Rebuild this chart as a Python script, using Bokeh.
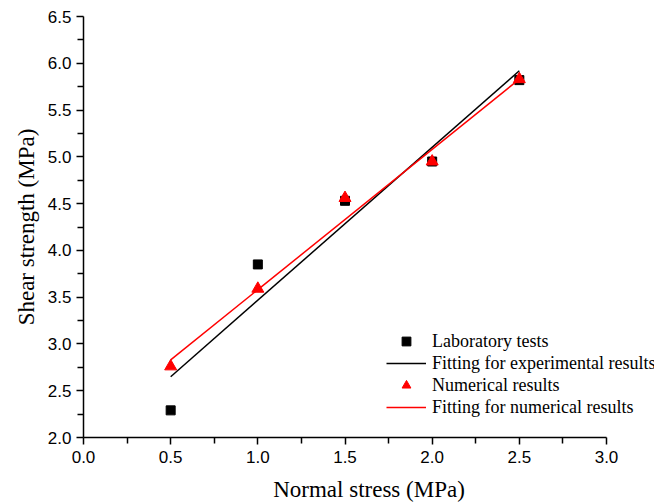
from bokeh.plotting import figure
from bokeh.models import (Range1d, FixedTicker, PrintfTickFormatter, Legend, LegendItem)
from bokeh.embed import file_html
from bokeh.resources import INLINE

# Normal stress levels (MPa)
normal_stress = [0.5, 1.0, 1.5, 2.0, 2.5]

# Shear strength from laboratory direct shear tests (MPa)
lab_strength = [2.29, 3.85, 4.53, 4.95, 5.82]

# Shear strength from the numerical model (MPa)
num_strength = [2.76, 3.59, 4.56, 4.95, 5.83]

# Linear (Mohr-Coulomb) fits, evaluated at the ends of the tested range
fit_stress = [0.5, 2.5]
fit_exp_strength = [2.65, 5.92]
fit_num_strength = [2.83, 5.83]

# Axis ticks
x_major = [0.0, 0.5, 1.0, 1.5, 2.0, 2.5, 3.0]
x_minor = [0.25, 0.75, 1.25, 1.75, 2.25, 2.75]
y_major = [2.0, 2.5, 3.0, 3.5, 4.0, 4.5, 5.0, 5.5, 6.0, 6.5]
y_minor = [2.25, 2.75, 3.25, 3.75, 4.25, 4.75, 5.25, 5.75, 6.25]

SERIF = "Liberation Serif"
SANS = "Liberation Sans"

# The frame runs past x = 3.0 so the legend can extend to the right edge;
# the x axis line itself is bounded to 0..3.
p = figure(width=656, height=504, output_backend="svg", toolbar_location=None,
           x_range=Range1d(0, 3.2753), y_range=Range1d(2, 6.5),
           min_border_left=83, min_border_right=2,
           min_border_top=16, min_border_bottom=66)

p.outline_line_color = None
p.xgrid.visible = False
p.ygrid.visible = False
p.background_fill_color = "white"
p.border_fill_color = "white"

r_lab = p.scatter(normal_stress, lab_strength, marker="square", size=9,
                  fill_color="black", line_color="black")
r_fit_exp = p.line(fit_stress, fit_exp_strength, line_color="black", line_width=1.5)
r_num = p.scatter(normal_stress, num_strength, marker="triangle", size=12,
                  fill_color="#ff0000", line_color="#ff0000")
r_fit_num = p.line(fit_stress, fit_num_strength, line_color="#ff0000", line_width=1.5)

p.xaxis.ticker = FixedTicker(ticks=x_major, minor_ticks=x_minor)
p.yaxis.ticker = FixedTicker(ticks=y_major, minor_ticks=y_minor)
p.xaxis.bounds = (0, 3)
for ax in (p.xaxis, p.yaxis):
    ax.formatter = PrintfTickFormatter(format="%.1f")
    ax.axis_line_width = 1.5
    ax.axis_line_color = "black"
    ax.major_tick_line_color = "black"
    ax.minor_tick_line_color = "black"
    ax.major_tick_line_width = 1.5
    ax.minor_tick_line_width = 1.5
    ax.major_tick_in = 0
    ax.minor_tick_in = 0
    ax.major_tick_out = 7
    ax.minor_tick_out = 6
    ax.major_label_text_font = SANS
    ax.major_label_text_font_size = "17px"
    ax.major_label_text_color = "black"
    ax.axis_label_text_font = SERIF
    ax.axis_label_text_font_size = "23px"
    ax.axis_label_text_font_style = "normal"
    ax.axis_label_text_color = "black"

p.xaxis.axis_label = "Normal stress (MPa)"
p.yaxis.axis_label = "Shear strength (MPa)"
p.xaxis.major_label_standoff = 6
p.yaxis.major_label_standoff = 5
p.xaxis.axis_label_standoff = 11
p.yaxis.axis_label_standoff = 6

legend = Legend(items=[
    LegendItem(label="Laboratory tests", renderers=[r_lab]),
    LegendItem(label="Fitting for experimental results", renderers=[r_fit_exp]),
    LegendItem(label="Numerical results", renderers=[r_num]),
    LegendItem(label="Fitting for numerical results", renderers=[r_fit_num]),
], location=(303, 19))
legend.glyph_width = 40
legend.glyph_height = 22
legend.label_height = 22
legend.label_standoff = 6
legend.spacing = 0
legend.padding = 0
legend.margin = 0
legend.border_line_color = None
legend.background_fill_alpha = 0
legend.label_text_font = SERIF
legend.label_text_font_size = "18px"
legend.label_text_color = "black"
p.add_layout(legend, "center")

open("out.html", "w").write(file_html(p, INLINE))
